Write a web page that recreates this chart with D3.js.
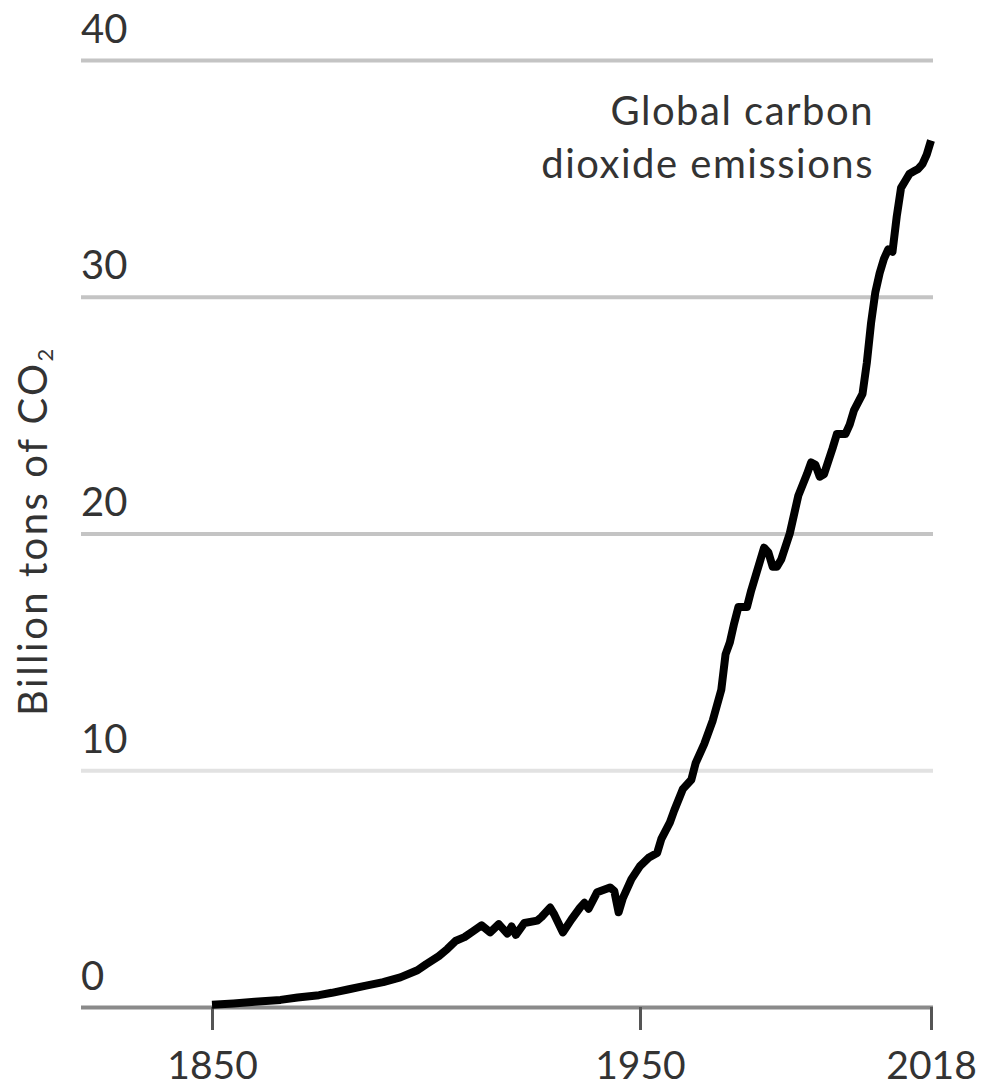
<!DOCTYPE html>
<html>
<head>
<meta charset="utf-8">
<script src="https://cdn.jsdelivr.net/npm/d3@7"></script>
<style>
  body { margin: 0; background: #fff; }
  text { font-family: Lato, "Open Sans", sans-serif; fill: #333; }
</style>
</head>
<body>
<svg id="chart" width="981" height="1090"></svg>
<script>
// emissions, billion tons of CO2
var years = [1850, 1855, 1860, 1866, 1870, 1875, 1878, 1882, 1886, 1890,
  1894, 1898, 1900, 1903, 1905, 1907, 1909, 1911, 1913, 1915,
  1917, 1919, 1920, 1921, 1923, 1926, 1927, 1929, 1930, 1932,
  1934, 1936, 1937, 1938, 1940, 1943, 1944, 1945, 1946, 1948,
  1950, 1952, 1954, 1955, 1957, 1958, 1960, 1962, 1963, 1965,
  1967, 1969, 1970, 1971, 1972, 1973, 1975, 1976, 1977, 1978,
  1979, 1980, 1981, 1982, 1983, 1985, 1987, 1989, 1990, 1991,
  1992, 1993, 1995, 1996, 1998, 1999, 2000, 2002, 2003, 2004,
  2005, 2006, 2007, 2008, 2009, 2010, 2011, 2012, 2013, 2014,
  2015, 2016, 2017, 2018];
var emissions = [0.1, 0.15, 0.22, 0.3, 0.4, 0.5, 0.6, 0.75, 0.9, 1.05,
  1.25, 1.55, 1.8, 2.15, 2.45, 2.8, 2.95, 3.2, 3.45, 3.15,
  3.5, 3.1, 3.4, 3.05, 3.55, 3.65, 3.8, 4.2, 3.9, 3.15,
  3.7, 4.2, 4.4, 4.15, 4.85, 5.05, 4.9, 4.0, 4.6, 5.4,
  5.95, 6.3, 6.5, 7.1, 7.8, 8.3, 9.2, 9.6, 10.3, 11.1,
  12.1, 13.4, 14.9, 15.4, 16.2, 16.9, 16.9, 17.6, 18.2, 18.8,
  19.4, 19.2, 18.6, 18.6, 18.9, 20.0, 21.6, 22.5, 23.0, 22.9,
  22.4, 22.5, 23.6, 24.2, 24.2, 24.6, 25.2, 25.9, 27.2, 28.9,
  30.2, 31.0, 31.6, 32.0, 31.9, 33.4, 34.6, 34.9, 35.2, 35.3,
  35.4, 35.6, 36.0, 36.6];

var xTicks = [1850, 1950, 2018];
var yTicks = [0, 10, 20, 30, 40];
var gridColors = ["#8a8a8a", "#e2e2e2", "#c4c4c4", "#c4c4c4", "#c4c4c4"];

var svg = d3.select("#chart");

var x = d3.scaleLinear().domain([1850, 2018]).range([212, 931]);
var y = d3.scaleLinear().domain([0, 40]).range([1007, 60]);

var gridLeft = 81, gridRight = 933;

// gridlines + y labels
var yAxis = svg.append("g")
  .attr("transform", "translate(" + gridLeft + ",0)")
  .call(d3.axisLeft(y).tickValues(yTicks).tickSize(-(gridRight - gridLeft)));
yAxis.select(".domain").remove();
yAxis.selectAll(".tick line")
  .attr("stroke", function(d, i) { return gridColors[i]; })
  .attr("stroke-width", 4);
yAxis.selectAll(".tick text")
  .attr("x", 0)
  .attr("y", -18)
  .attr("dy", 0)
  .attr("text-anchor", "start")
  .style("font-size", "40px")
  .style("fill", "#333");

// x ticks
var xAxis = svg.append("g")
  .attr("transform", "translate(0," + y(0) + ")")
  .call(d3.axisBottom(x).tickValues(xTicks).tickSize(23).tickFormat(d3.format("d")));
xAxis.select(".domain").remove();
xAxis.selectAll(".tick line")
  .attr("stroke", "#555")
  .attr("stroke-width", 3);
xAxis.selectAll(".tick text")
  .attr("y", 72)
  .attr("dy", 0)
  .style("font-size", "39px")
  .style("fill", "#333");

// y title
var title = svg.append("text")
  .attr("transform", "translate(47,531) rotate(-90)")
  .attr("text-anchor", "middle")
  .style("font-size", "40px")
  .style("letter-spacing", "2.5px")
  .text("Billion tons of CO");
title.append("tspan")
  .attr("dy", 6)
  .style("font-size", "22px")
  .text("2");

// annotation
var note = svg.append("text")
  .attr("text-anchor", "end")
  .style("font-size", "40px")
  .style("letter-spacing", "1.5px");
note.append("tspan").attr("x", 874).attr("y", 125).text("Global carbon");
note.append("tspan").attr("x", 874).attr("y", 178).text("dioxide emissions");

// series
var data = years.map(function(yr, i) { return { year: yr, value: emissions[i] }; });
var line = d3.line()
  .x(function(d) { return x(d.year); })
  .y(function(d) { return y(d.value); });

svg.append("path")
  .datum(data)
  .attr("fill", "none")
  .attr("stroke", "#000")
  .attr("stroke-width", 8)
  .attr("stroke-linejoin", "round")
  .attr("d", line);
</script>
</body>
</html>
